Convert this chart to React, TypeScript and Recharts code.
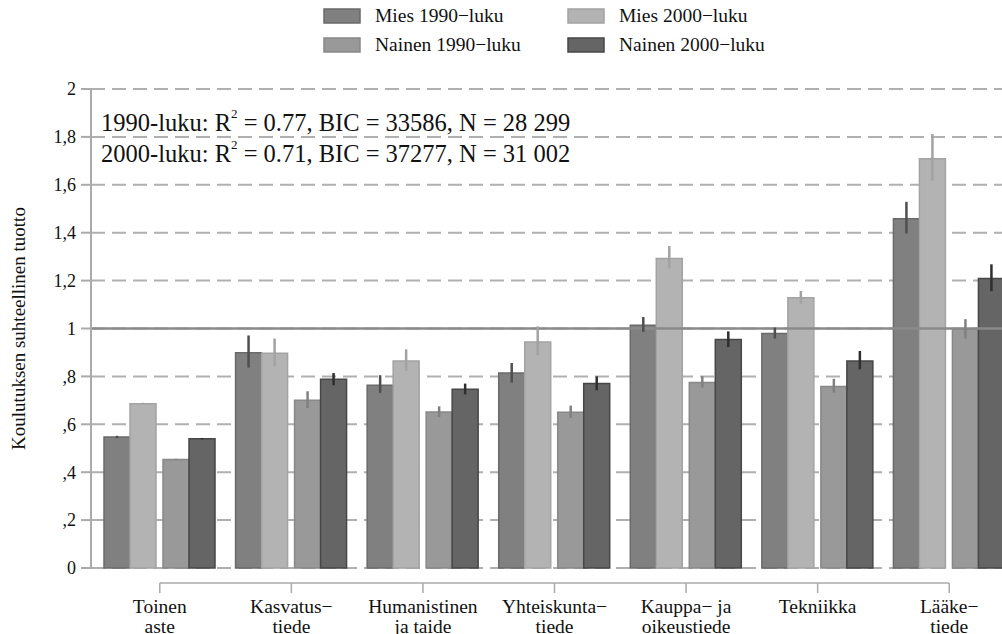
import React from 'react';
import { BarChart, Bar, XAxis, YAxis, CartesianGrid, ReferenceLine, ErrorBar } from 'recharts';

const categoryLines: string[][] = [
  ['Toinen', 'aste'],
  ['Kasvatus\u2212', 'tiede'],
  ['Humanistinen', 'ja taide'],
  ['Yhteiskunta\u2212', 'tiede'],
  ['Kauppa\u2212 ja', 'oikeustiede'],
  ['Tekniikka'],
  ['L\u00e4\u00e4ke\u2212', 'tiede'],
];

const mies1990 = [0.547, 0.899, 0.763, 0.814, 1.014, 0.979, 1.458];
const mies2000 = [0.686, 0.897, 0.864, 0.944, 1.292, 1.128, 1.709];
const nainen1990 = [0.453, 0.700, 0.651, 0.650, 0.775, 0.758, 0.997];
const nainen2000 = [0.540, 0.788, 0.746, 0.770, 0.954, 0.864, 1.209];

// error deltas [below, above]
const mies1990Err = [[0.005, 0.005], [0.062, 0.072], [0.032, 0.042], [0.040, 0.042], [0.028, 0.034], [0.021, 0.025], [0.061, 0.071]];
const mies2000Err = [[0.004, 0.004], [0.055, 0.061], [0.041, 0.049], [0.056, 0.065], [0.041, 0.052], [0.024, 0.029], [0.092, 0.103]];
const nainen1990Err = [[0.003, 0.003], [0.032, 0.038], [0.021, 0.024], [0.024, 0.028], [0.022, 0.026], [0.026, 0.032], [0.039, 0.042]];
const nainen2000Err = [[0.003, 0.003], [0.025, 0.026], [0.021, 0.024], [0.028, 0.030], [0.031, 0.034], [0.034, 0.042], [0.053, 0.059]];

const yTicks = [0, 0.2, 0.4, 0.6, 0.8, 1, 1.2, 1.4, 1.6, 1.8, 2];

const seriesNames = ['Mies 1990\u2212luku', 'Mies 2000\u2212luku', 'Nainen 1990\u2212luku', 'Nainen 2000\u2212luku'];
const seriesFill = ['#808080', '#b3b3b3', '#999999', '#656565'];
const seriesStroke = ['#6a6a6a', '#a3a3a3', '#888888', '#474747'];
const errColor = ['#4f4f4f', '#a2a2a2', '#808080', '#2e2e2e'];

const annotation1 = ['1990-luku: R', '2', ' = 0.77, BIC = 33586, N = 28 299'];
const annotation2 = ['2000-luku: R', '2', ' = 0.71, BIC = 37277, N = 31 002'];

const FONT = "'Liberation Serif', 'Times New Roman', Times, serif";
const CHART_W = 1015;
const CHART_H = 634;
const Y_AXIS_W = 91;
const PAD_LEFT = 3;
const BAND = (CHART_W - Y_AXIS_W - PAD_LEFT) / categoryLines.length;

const data = categoryLines.map((lines, i) => ({
  cat: lines.join(' '),
  idx: i,
  m90: mies1990[i],
  m00: mies2000[i],
  n90: nainen1990[i],
  n00: nainen2000[i],
  m90e: mies1990Err[i],
  m00e: mies2000Err[i],
  n90e: nainen1990Err[i],
  n00e: nainen2000Err[i],
}));

const fmtY = (v: number) => {
  if (Number.isInteger(v)) return String(v);
  return v.toFixed(1).replace('.', ',').replace(/^0/, '');
};

const CatTick = (props: any) => {
  const { x, y, index } = props;
  const lines = categoryLines[index] || [];
  const last = index === categoryLines.length - 1;
  return (
    <g>
      {!last && (
        <line x1={x} x2={x + BAND} y1={y + 15} y2={y + 15} stroke="#aaaaaa" strokeWidth={1.5} />
      )}
      <line x1={x} x2={x} y1={y + 15} y2={y + 25} stroke="#aaaaaa" strokeWidth={1.5} />
      {lines.map((l, k) => (
        <text key={k} x={x} y={y + 45 + k * 19.5} textAnchor="middle" fontSize={19.5} fontFamily={FONT} style={{ fontFamily: FONT }} fill="#111">
          {l}
        </text>
      ))}
    </g>
  );
};

export default function App() {
  return (
    <div style={{ position: 'absolute', left: 0, top: 0, width: 1002, height: 634, overflow: 'hidden', background: '#fff', fontFamily: FONT }}>
      <BarChart
        width={CHART_W}
        height={CHART_H}
        data={data}
        margin={{ top: 89, right: 0, bottom: 0, left: 0 }}
        barGap={0}
        style={{ fontFamily: FONT }}
      >
        <CartesianGrid vertical={false} stroke="#b0b0b0" strokeWidth={2} strokeDasharray="14 7" />
        <ReferenceLine y={1} stroke="#8a8a8a" strokeWidth={2.5} />
        <XAxis
          dataKey="cat"
          axisLine={false}
          tickLine={false}
          tickSize={0}
          tickMargin={0}
          height={66}
          interval={0}
          padding={{ left: PAD_LEFT, right: 0 }}
          tick={<CatTick />}
        />
        <YAxis
          width={Y_AXIS_W}
          domain={[0, 2]}
          ticks={yTicks}
          interval={0}
          tickFormatter={fmtY}
          axisLine={{ stroke: '#aaaaaa', strokeWidth: 2 }}
          tickLine={{ stroke: '#aaaaaa', strokeWidth: 2 }}
          tickSize={10}
          tickMargin={5}
          tick={{ fill: '#111', fontSize: 18, fontFamily: FONT, style: { fontFamily: FONT } }}
          label={{
            content: (p: any) => {
              const vb = p.viewBox || { x: 0, y: 89, height: 479 };
              const cx = 25;
              const cy = vb.y + vb.height / 2;
              return (
                <text x={cx} y={cy} transform={`rotate(-90 ${cx} ${cy})`} textAnchor="middle" fontSize={19} fontFamily={FONT} style={{ fontFamily: FONT }} fill="#111">
                  Koulutuksen suhteellinen tuotto
                </text>
              );
            },
          }}
        />
        <Bar dataKey="m90" fill={seriesFill[0]} stroke={seriesStroke[0]} strokeWidth={1.5} barSize={26} isAnimationActive={false}>
          <ErrorBar dataKey="m90e" width={0} stroke={errColor[0]} strokeWidth={2.5} direction="y" />
        </Bar>
        <Bar dataKey="m00" fill={seriesFill[1]} stroke={seriesStroke[1]} strokeWidth={1.5} barSize={26} isAnimationActive={false}>
          <ErrorBar dataKey="m00e" width={0} stroke={errColor[1]} strokeWidth={2.5} direction="y" />
        </Bar>
        <Bar dataKey="spacer" fill="none" barSize={7} isAnimationActive={false} />
        <Bar dataKey="n90" fill={seriesFill[2]} stroke={seriesStroke[2]} strokeWidth={1.5} barSize={26} isAnimationActive={false}>
          <ErrorBar dataKey="n90e" width={0} stroke={errColor[2]} strokeWidth={2.5} direction="y" />
        </Bar>
        <Bar dataKey="n00" fill={seriesFill[3]} stroke={seriesStroke[3]} strokeWidth={1.5} barSize={26} isAnimationActive={false}>
          <ErrorBar dataKey="n00e" width={0} stroke={errColor[3]} strokeWidth={2.5} direction="y" />
        </Bar>
      </BarChart>
      <svg width={1002} height={634} style={{ position: 'absolute', left: 0, top: 0, pointerEvents: 'none' }}>
        {seriesNames.map((name, i) => {
          const c = i === 0 || i === 2 ? 0 : 1;
          const r = i === 0 || i === 1 ? 0 : 1;
          const bx = c === 0 ? 324 : 568;
          const by = r === 0 ? 9 : 38;
          return (
            <g key={name}>
              <rect x={bx} y={by} width={36} height={14} fill={seriesFill[i]} stroke={seriesStroke[i]} strokeWidth={1.5} />
              <text x={bx + 51} y={by + 13} fontSize={19.5} fontFamily={FONT} fill="#111">{name}</text>
            </g>
          );
        })}
        {[annotation1, annotation2].map((a, k) => (
          <text key={k} x={101} y={131 + k * 31} fontSize={24.5} fontFamily={FONT} fill="#111">
            {a[0]}
            <tspan dy={-13} fontSize={13}>{a[1]}</tspan>
            <tspan dy={13}>{a[2]}</tspan>
          </text>
        ))}
      </svg>
    </div>
  );
}
